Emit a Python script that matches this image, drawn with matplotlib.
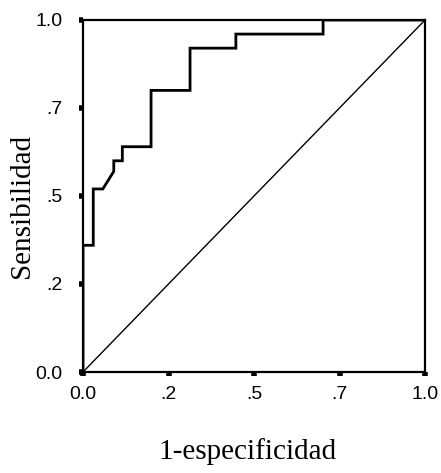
import matplotlib
matplotlib.use("Agg")
import matplotlib.pyplot as plt

# ROC curve data (1-specificity, sensitivity)
fpr = [0.0, 0.0, 0.03, 0.03, 0.058, 0.09, 0.09, 0.115, 0.115, 0.199, 0.199,
       0.313, 0.313, 0.447, 0.447, 0.702, 0.702, 1.0]
tpr = [0.0, 0.36, 0.36, 0.52, 0.52, 0.57, 0.60, 0.60, 0.64, 0.64, 0.80,
       0.80, 0.92, 0.92, 0.96, 0.96, 1.0, 1.0]
ref_line = [0.0, 1.0]
tick_vals = [0.0, 0.25, 0.5, 0.75, 1.0]
tick_labels = ["0.0", ".2", ".5", ".7", "1.0"]

fig = plt.figure(figsize=(4.41, 4.73), dpi=100)
ax = fig.add_axes([83/441, 101/473, 342/441, 352/473])

ax.plot(fpr, tpr, color="black", lw=2.0, solid_joinstyle="miter")
ax.plot(ref_line, ref_line, color="black", lw=1.0)

ax.set_xlim(0, 1)
ax.set_ylim(0, 1)
for s in ax.spines.values():
    s.set_linewidth(1.6)

ax.set_xticks(tick_vals)
ax.set_xticklabels(tick_labels, family="Liberation Sans", fontsize=14)
ax.set_yticks(tick_vals)
ax.set_yticklabels(tick_labels, family="Liberation Sans", fontsize=14)
ax.tick_params(axis="x", direction="out", length=3, width=4, pad=7)
ax.tick_params(axis="y", direction="out", length=3, width=4, pad=12)

ax.set_xlabel("1-especificidad", family="Liberation Serif", fontsize=21, va="center")
ax.xaxis.set_label_coords(0.48, -0.227)
ax.set_ylabel("Sensibilidad", family="Liberation Serif", fontsize=21, va="center")
ax.yaxis.set_label_coords(-0.178, 0.472)

fig.savefig("out.png", dpi=100)
